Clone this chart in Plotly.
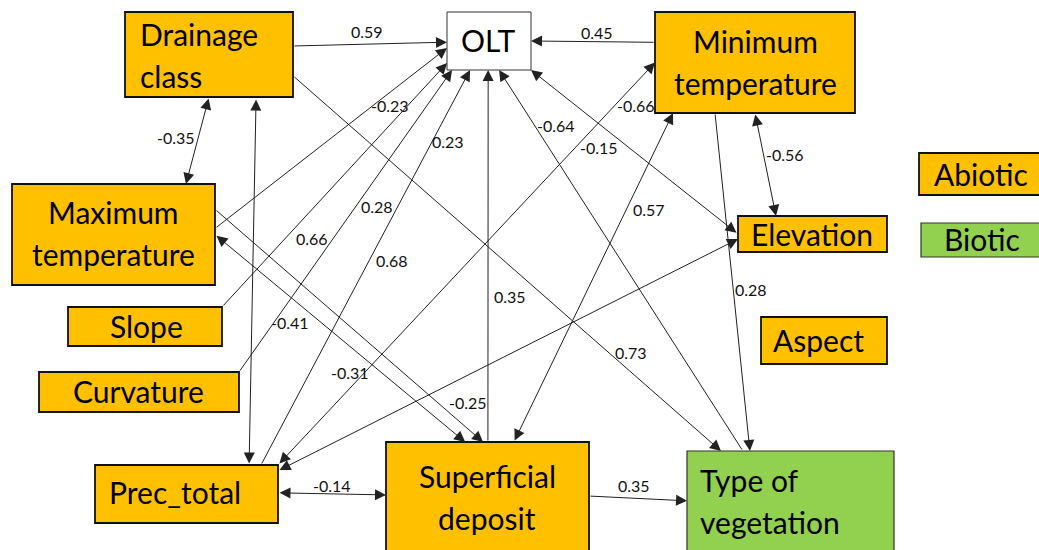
import plotly.graph_objects as go

# ---------------- data ----------------
node_ids = ["drain", "olt", "mint", "maxt", "slope", "curv", "prec",
            "sup", "veg", "elev", "aspect", "abiotic", "biotic"]
node_labels = ["Drainage<br>class", "OLT", "Minimum<br>temperature",
               "Maximum<br>temperature", "Slope", "Curvature", "Prec_total",
               "Superficial<br>deposit", "Type of<br>vegetation", "Elevation",
               "Aspect", "Abiotic", "Biotic"]
node_groups = ["abiotic", "outcome", "abiotic", "abiotic", "abiotic", "abiotic",
               "abiotic", "abiotic", "biotic", "abiotic", "abiotic", "abiotic", "biotic"]

edge_from = ["drain", "mint", "drain", "prec", "maxt", "slope", "curv", "prec",
             "sup", "veg", "elev", "prec", "prec", "sup", "mint", "mint",
             "drain", "maxt", "maxt", "prec", "sup"]
edge_to = ["olt", "olt", "maxt", "drain", "olt", "olt", "olt", "olt",
           "olt", "olt", "olt", "mint", "elev", "mint", "veg", "elev",
           "veg", "sup", "sup", "sup", "veg"]
edge_coef = ["0.59", "0.45", "-0.35", "-0.41", "-0.23", "0.66", "0.28", "0.23",
             "0.35", "-0.64", "-0.15", "-0.66", "0.68", "0.57", "0.28", "-0.56",
             "0.73", "-0.31", "-0.25", "-0.14", "0.35"]
edge_both = [False, False, True, True, False, False, False, False,
             False, False, True, True, True, True, False, True,
             False, True, False, True, False]

# ---------------- layout (pixel space of the 1039x550 canvas) ----------------
W, H = 1039, 550
boxes = {
    "drain": (125, 12, 293, 97),
    "olt": (447, 12, 531, 70),
    "mint": (655, 12, 855, 113),
    "maxt": (12, 184, 215, 285),
    "slope": (68, 307, 222, 346),
    "curv": (39, 372, 239, 412),
    "prec": (95, 465, 278, 523),
    "sup": (386, 442, 589, 557),
    "veg": (687, 451, 894, 557),
    "elev": (738, 216, 887, 252),
    "aspect": (761, 317, 887, 364),
    "abiotic": (919, 153, 1045, 195),
    "biotic": (921, 223, 1045, 257),
}
# text placement: (x, anchor, vertical centre)
text_pos = {
    "drain": (138, "left", 55),
    "olt": (459, "left", 40),
    "mint": (755, "center", 62),
    "maxt": (113, "center", 233),
    "slope": (146, "center", 326),
    "curv": (138, "center", 391),
    "prec": (107, "left", 492),
    "sup": (487, "center", 497),
    "veg": (698, "left", 501),
    "elev": (812, "center", 234),
    "aspect": (818, "center", 340),
    "abiotic": (981, "center", 174),
    "biotic": (982, "center", 239),
}
fills = {"abiotic": "#FFC000", "biotic": "#92D050", "outcome": "#FFFFFF"}

# anchors on boxes as fractions (fx, fy) : (tail, head)
anchors = [
    ((1, 0.40), (0, 0.52)),
    ((0, 0.30), (1, 0.50)),
    ((0.50, 1), (0.857, 0)),
    ((0.842, 0), (0.78, 1.03)),
    ((1, 0.44), (0, 0.62)),
    ((1, 0), (0, 0.88)),
    ((1, 0), (0.06, 1)),
    ((0.907, 0), (0.274, 1)),
    ((0.502, 0), (0.49, 1)),
    ((0.27, 0), (0.62, 1)),
    ((0, 0.5), (1, 1)),
    ((1, 0), (0, 0.50)),
    ((1, 0.10), (0, 0.64)),
    ((0.63, 0), (0.09, 1)),
    ((0.30, 1), (0.304, 0)),
    ((0.50, 1), (0.255, 0)),
    ((1, 0.75), (0.164, 0)),
    ((1, 0.50), (0.39, 0)),
    ((1, 0.25), (0.478, 0)),
    ((1, 0.48), (0, 0.46)),
    ((1, 0.47), (0, 0.47)),
]
label_pos = [(367, 31), (597, 32), (176, 137), (290, 322), (390, 105),
             (312, 238), (377, 206), (448, 141), (510, 296), (556, 125),
             (599, 147), (636, 105), (392, 260), (649, 209), (751, 289),
             (785, 154), (631, 352), (350, 372), (468, 402), (332, 485),
             (634, 485)]

FONT = "Lato, 'Open Sans', sans-serif"


def pt(node, f):
    x0, y0, x1, y1 = boxes[node]
    return x0 + f[0] * (x1 - x0), y0 + f[1] * (y1 - y0)


fig = go.Figure()
fig.add_trace(go.Scatter(x=[0, W], y=[0, H], mode="markers",
                         marker=dict(opacity=0), hoverinfo="skip", showlegend=False))

shapes = []
annotations = []

for i in range(len(edge_from)):
    (tx, ty) = pt(edge_from[i], anchors[i][0])
    (hx, hy) = pt(edge_to[i], anchors[i][1])
    annotations.append(dict(
        x=hx, y=hy, ax=tx, ay=ty, xref="x", yref="y", axref="x", ayref="y",
        text="", showarrow=True,
        arrowhead=2, arrowsize=2.2, arrowwidth=1.0, arrowcolor="#222222",
        arrowside="end+start" if edge_both[i] else "end",
        startarrowhead=2, startarrowsize=2.2,
    ))
    lx, ly = label_pos[i]
    annotations.append(dict(
        x=lx, y=ly, xref="x", yref="y", text=edge_coef[i], showarrow=False,
        font=dict(family=FONT, size=16, color="#111"),
        xanchor="center", yanchor="middle",
    ))

for nid, lab, grp in zip(node_ids, node_labels, node_groups):
    x0, y0, x1, y1 = boxes[nid]
    lw = 1.0 if grp == "outcome" else (1.2 if grp == "biotic" else 1.8)
    lc = "#333" if grp != "abiotic" else "#111"
    shapes.append(dict(type="rect", xref="x", yref="y", x0=x0, y0=y0, x1=x1, y1=y1,
                       fillcolor=fills[grp], line=dict(color=lc, width=lw), layer="below"))
    tx, anch, cy = text_pos[nid]
    lines = lab.split("<br>")
    n = len(lines)
    for k, line in enumerate(lines):
        yy = cy + (k - (n - 1) / 2) * 42
        annotations.append(dict(
            x=tx, y=yy, xref="x", yref="y", text=line, showarrow=False,
            font=dict(family=FONT, size=30, color="#000"),
            xanchor=anch, yanchor="middle",
        ))

fig.update_layout(
    width=W, height=H, margin=dict(l=0, r=0, t=0, b=0),
    paper_bgcolor="white", plot_bgcolor="white",
    xaxis=dict(range=[0, W], visible=False, fixedrange=True),
    yaxis=dict(range=[H, 0], visible=False, fixedrange=True),
    shapes=shapes, annotations=annotations, showlegend=False,
)
fig.write_html(
    "out.html",
    config={"displayModeBar": False, "staticPlot": True},
    post_script="document.body.style.margin='0';document.body.style.overflow='hidden';",
)
